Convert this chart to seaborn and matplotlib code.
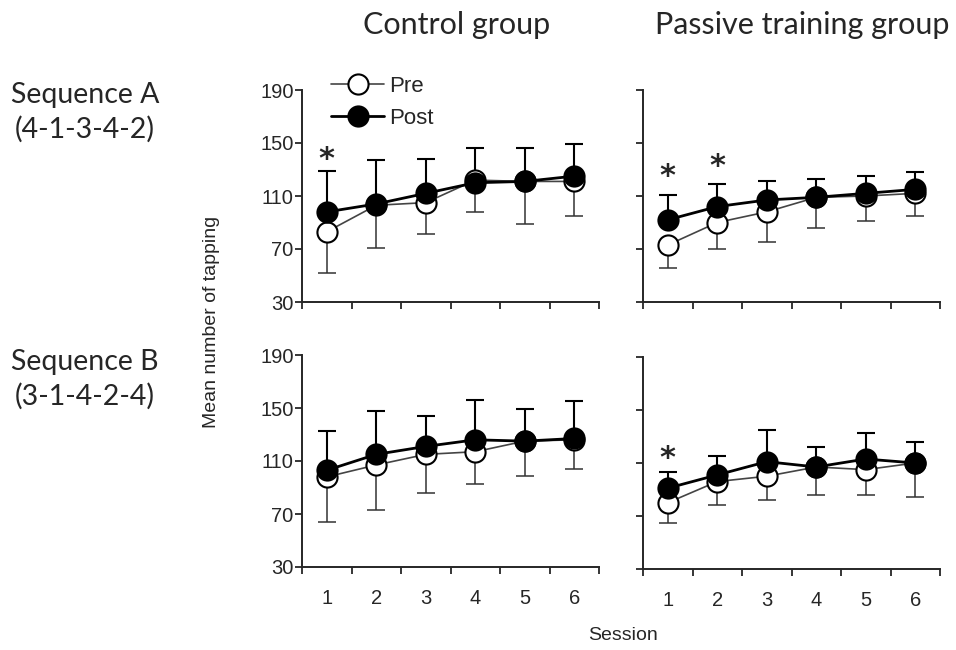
import matplotlib
matplotlib.use("Agg")
import matplotlib.pyplot as plt
import pandas as pd
import seaborn as sns

sessions = [1, 2, 3, 4, 5, 6]

# Sequence A
ctrl_a_pre = [83, 103, 105, 122, 121, 121]
ctrl_a_post = [98, 104, 112, 120, 121, 125]
ctrl_a_pre_sd = [31, 32, 24, 24, 32, 26]
ctrl_a_post_sd = [31, 33, 26, 26, 25, 24]

pas_a_pre = [73, 90, 98, 109, 110, 112]
pas_a_post = [92, 102, 107, 109, 112, 115]
pas_a_pre_sd = [17, 20, 23, 23, 19, 17]
pas_a_post_sd = [19, 17, 14, 14, 13, 13]

# Sequence B
ctrl_b_pre = [98, 107, 115, 117, 125, 126]
ctrl_b_post = [103, 115, 121, 126, 125, 127]
ctrl_b_pre_sd = [34, 34, 29, 24, 26, 22]
ctrl_b_post_sd = [30, 33, 23, 30, 24, 28]

pas_b_pre = [80, 96, 100, 107, 105, 110]
pas_b_post = [91, 101, 111, 107, 113, 110]
pas_b_pre_sd = [15, 18, 18, 21, 19, 26]
pas_b_post_sd = [12, 14, 24, 15, 20, 16]

# significance marks (session, height)
stars_ctrl_a = [(1, 143)]
stars_pas_a = [(1, 130), (2, 138)]
stars_ctrl_b = []
stars_pas_b = [(1, 119)]

col_titles = ["Control group", "Passive training group"]
row_titles = [("Sequence A", "(4-1-3-4-2)"), ("Sequence B", "(3-1-4-2-4)")]
y_ticks = [30, 70, 110, 150, 190]

panels = [
    (ctrl_a_pre, ctrl_a_post, ctrl_a_pre_sd, ctrl_a_post_sd, stars_ctrl_a),
    (pas_a_pre, pas_a_post, pas_a_pre_sd, pas_a_post_sd, stars_pas_a),
    (ctrl_b_pre, ctrl_b_post, ctrl_b_pre_sd, ctrl_b_post_sd, stars_ctrl_b),
    (pas_b_pre, pas_b_post, pas_b_pre_sd, pas_b_post_sd, stars_pas_b),
]

sns.set_style("ticks")
plt.rcParams["font.family"] = ["Liberation Sans", "DejaVu Sans"]

W, H = 956, 650
fig = plt.figure(figsize=(W / 100, H / 100), dpi=100)


def px_rect(left, top, w, h):
    return [left / W, 1 - (top + h) / H, w / W, h / H]


rects = [px_rect(302, 90, 297, 212), px_rect(643, 90, 297, 212),
         px_rect(302, 355, 297, 212), px_rect(643, 357, 297, 212)]

axes = []
for i, (pre, post, pre_sd, post_sd, stars) in enumerate(panels):
    ax = fig.add_axes(rects[i])
    axes.append(ax)
    df = pd.DataFrame({"Session": sessions, "Pre": pre, "Post": post})

    # error bars: Pre downward, Post upward
    ax.errorbar(sessions, pre, yerr=[pre_sd, [0] * 6], fmt="none",
                ecolor="#333333", elinewidth=1.1, capsize=6.5, capthick=1.1, zorder=1)
    ax.errorbar(sessions, post, yerr=[[0] * 6, post_sd], fmt="none",
                ecolor="black", elinewidth=1.5, capsize=6.5, capthick=1.5, zorder=1)

    sns.lineplot(data=df, x="Session", y="Pre", ax=ax, color="#444444", lw=1.2,
                 marker="o", markersize=14.5, markerfacecolor="white",
                 markeredgecolor="black", markeredgewidth=1.5,
                 label="Pre", legend=False, zorder=2)
    sns.lineplot(data=df, x="Session", y="Post", ax=ax, color="black", lw=2,
                 marker="o", markersize=14.5, markerfacecolor="black",
                 markeredgecolor="black", markeredgewidth=1.5,
                 label="Post", legend=False, zorder=3)

    for s, h in stars:
        ax.text(s, h - 12, "*", ha="center", va="baseline", fontsize=22,
                fontweight="bold", family="DejaVu Sans")

    ax.set_xlim(0.5, 6.5)
    ax.set_ylim(30, 190)
    ax.set_yticks(y_ticks)
    ax.set_xticks(sessions)
    ax.set_xticks([0.5, 1.5, 2.5, 3.5, 4.5, 5.5, 6.5], minor=True)
    ax.tick_params(axis="x", which="major", length=0, labelsize=14.5, pad=16)
    ax.tick_params(axis="x", which="minor", length=5, width=1.3)
    ax.tick_params(axis="y", length=5, width=1.3, labelsize=14.5, pad=1)
    ax.set_xlabel("")
    ax.set_ylabel("")
    if i < 2:
        ax.tick_params(axis="x", labelbottom=False)
    if i % 2 == 1:
        ax.tick_params(axis="y", labelleft=False)
    sns.despine(ax=ax)
    for sp in ["left", "bottom"]:
        ax.spines[sp].set_linewidth(1.4)

handles, labels = axes[0].get_legend_handles_labels()
axes[0].legend(handles, labels, loc="upper left", bbox_to_anchor=(0.06, 1.12),
               frameon=False, fontsize=16, handlelength=2.4, handletextpad=0.2,
               labelspacing=0.5, borderpad=0)

title_font = ["Lato", "DejaVu Sans"]
fig.text(457 / W, 1 - 25 / H, col_titles[0], ha="center", va="center",
         fontsize=22, family=title_font)
fig.text(802 / W, 1 - 25 / H, col_titles[1], ha="center", va="center",
         fontsize=22, family=title_font)
for (name, seq), yc in zip(row_titles, [95, 362]):
    fig.text(85 / W, 1 - yc / H, name, ha="center", va="center",
             fontsize=20.5, family=title_font)
    fig.text(85 / W, 1 - (yc + 34) / H, seq, ha="center", va="center",
             fontsize=20.5, family=title_font)

fig.text(211 / W, 1 - 322 / H, "Mean number of tapping", rotation=90,
         ha="center", va="center", fontsize=14)
fig.text(623 / W, 1 - 636 / H, "Session", ha="center", va="center", fontsize=14)

fig.savefig("out.png", dpi=100)
